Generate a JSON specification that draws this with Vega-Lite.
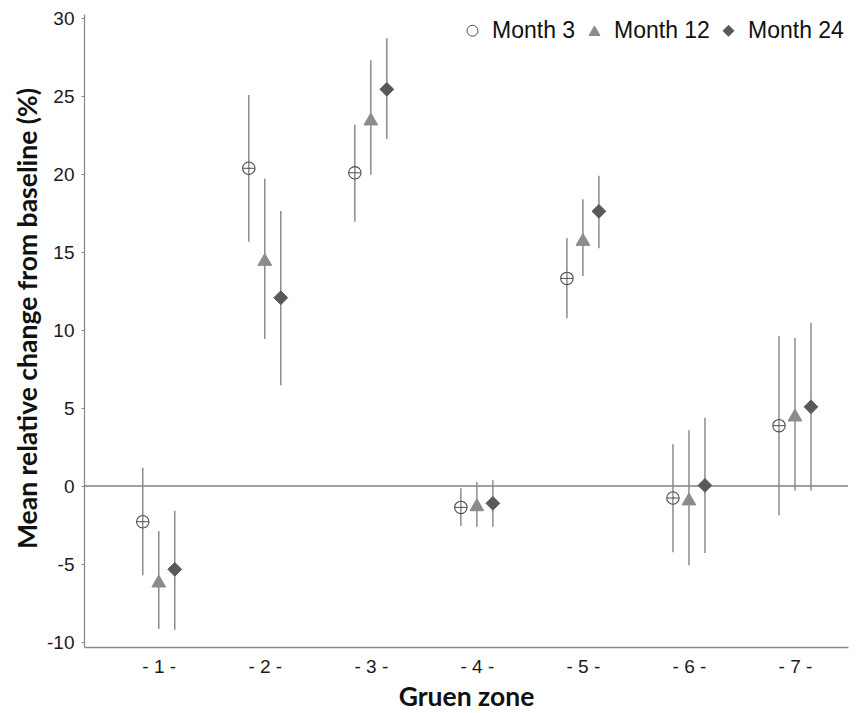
{
  "$schema": "https://vega.github.io/schema/vega-lite/v6.json",
  "width": 764,
  "height": 633,
  "autosize": {"type": "none"},
  "padding": {"left": 84, "top": 14, "right": 12, "bottom": 66},
  "background": "white",
  "config": {
    "view": {"stroke": null},
    "axis": {
      "grid": false,
      "domainColor": "#8a8a8a",
      "domainWidth": 1.3,
      "tickColor": "#8a8a8a",
      "labelFont": "Liberation Sans",
      "labelFontSize": 19,
      "labelColor": "#1a1a1a",
      "titleFont": "Lato",
      "titleFontSize": 26.5,
      "titleFontWeight": "bold",
      "titleColor": "#111111"
    },
    "legend": {
      "orient": "none",
      "legendX": 377,
      "legendY": 5,
      "direction": "horizontal",
      "labelFont": "Liberation Sans",
      "labelFontSize": 23,
      "labelColor": "#111111",
      "symbolSize": 120,
      "symbolStrokeWidth": 1,
      "labelOffset": 8,
      "columnPadding": 7,
      "padding": 0
    }
  },
  "data": {
    "values": [
      {"zone": 1, "month": "Month 3", "mean": -2.29, "lo": -5.72, "hi": 1.17},
      {"zone": 1, "month": "Month 12", "mean": -6.09, "lo": -9.17, "hi": -2.88},
      {"zone": 1, "month": "Month 24", "mean": -5.34, "lo": -9.21, "hi": -1.58},
      {"zone": 2, "month": "Month 3", "mean": 20.37, "lo": 15.66, "hi": 25.06},
      {"zone": 2, "month": "Month 12", "mean": 14.53, "lo": 9.42, "hi": 19.72},
      {"zone": 2, "month": "Month 24", "mean": 12.07, "lo": 6.46, "hi": 17.63},
      {"zone": 3, "month": "Month 3", "mean": 20.08, "lo": 16.94, "hi": 23.16},
      {"zone": 3, "month": "Month 12", "mean": 23.53, "lo": 19.96, "hi": 27.29},
      {"zone": 3, "month": "Month 24", "mean": 25.43, "lo": 22.24, "hi": 28.7},
      {"zone": 4, "month": "Month 3", "mean": -1.37, "lo": -2.56, "hi": -0.15},
      {"zone": 4, "month": "Month 12", "mean": -1.2, "lo": -2.61, "hi": 0.26},
      {"zone": 4, "month": "Month 24", "mean": -1.11, "lo": -2.61, "hi": 0.37},
      {"zone": 5, "month": "Month 3", "mean": 13.31, "lo": 10.75, "hi": 15.9},
      {"zone": 5, "month": "Month 12", "mean": 15.81, "lo": 13.46, "hi": 18.38},
      {"zone": 5, "month": "Month 24", "mean": 17.61, "lo": 15.24, "hi": 19.89},
      {"zone": 6, "month": "Month 3", "mean": -0.77, "lo": -4.25, "hi": 2.67},
      {"zone": 6, "month": "Month 12", "mean": -0.83, "lo": -5.08, "hi": 3.57},
      {"zone": 6, "month": "Month 24", "mean": 0.04, "lo": -4.29, "hi": 4.38},
      {"zone": 7, "month": "Month 3", "mean": 3.87, "lo": -1.88, "hi": 9.62},
      {"zone": 7, "month": "Month 12", "mean": 4.55, "lo": -0.28, "hi": 9.49},
      {"zone": 7, "month": "Month 24", "mean": 5.08, "lo": -0.28, "hi": 10.47}
    ]
  },
  "layer": [
    {
      "data": {"values": [{"v": 0}]},
      "mark": {"type": "rule", "color": "#808080", "strokeWidth": 1.3},
      "encoding": {
        "y": {"field": "v", "type": "quantitative", "title": "Mean relative change from baseline (%)",
              "scale": {"domain": [-10.32, 30.26], "nice": false, "zero": false},
              "axis": {"values": [-10, -5, 0, 5, 10, 15, 20, 25, 30], "tickSize": 3, "labelPadding": 7,
                       "labelFont": "Liberation Sans", "labelFontSize": 19,
                       "labelExpr": "datum.value < 0 ? '-' + (-datum.value) : '' + datum.value",
                       "labelFlush": false, "titleX": -56, "titleY": 304, "titleAngle": 270,
                       "titleBaseline": "middle", "titleAlign": "center"}}
      }
    },
    {
      "transform": [{"filter": "datum.month == 'Month 3'"}],
      "mark": {"type": "rule", "color": "#8c8c8c", "strokeWidth": 1.5, "xOffset": -16},
      "encoding": {
        "x": {"field": "zone", "type": "quantitative", "title": "Gruen zone",
              "scale": {"domain": [0.295, 7.5], "nice": false, "zero": false},
              "axis": {"values": [1, 2, 3, 4, 5, 6, 7], "labelExpr": "'- ' + datum.value + ' -'",
                       "labelFont": "Liberation Sans", "labelFontSize": 19,
                       "ticks": false, "tickSize": 0, "labelPadding": 10, "labelFlush": false,
                       "titleY": 50, "titleBaseline": "middle"}},
        "y": {"field": "lo", "type": "quantitative", "title": "Mean relative change from baseline (%)"},
        "y2": {"field": "hi"}
      }
    },
    {
      "transform": [{"filter": "datum.month == 'Month 12'"}],
      "mark": {"type": "rule", "color": "#8c8c8c", "strokeWidth": 1.5, "xOffset": 0},
      "encoding": {
        "x": {"field": "zone", "type": "quantitative", "title": "Gruen zone"},
        "y": {"field": "lo", "type": "quantitative", "title": "Mean relative change from baseline (%)"},
        "y2": {"field": "hi"}
      }
    },
    {
      "transform": [{"filter": "datum.month == 'Month 24'"}],
      "mark": {"type": "rule", "color": "#8c8c8c", "strokeWidth": 1.5, "xOffset": 16},
      "encoding": {
        "x": {"field": "zone", "type": "quantitative", "title": "Gruen zone"},
        "y": {"field": "lo", "type": "quantitative", "title": "Mean relative change from baseline (%)"},
        "y2": {"field": "hi"}
      }
    },
    {
      "transform": [{"filter": "datum.month == 'Month 3'"}],
      "mark": {"type": "point", "size": 154, "strokeWidth": 1.1, "opacity": 1, "xOffset": -16},
      "encoding": {
        "x": {"field": "zone", "type": "quantitative", "title": "Gruen zone"},
        "y": {"field": "mean", "type": "quantitative", "title": "Mean relative change from baseline (%)"},
        "shape": {"field": "month", "type": "nominal", "title": null,
                  "scale": {"domain": ["Month 3", "Month 12", "Month 24"], "range": ["circle", "triangle-up", "diamond"]}},
        "fill": {"field": "month", "type": "nominal", "title": null,
                 "scale": {"domain": ["Month 3", "Month 12", "Month 24"], "range": ["transparent", "#8c8c8c", "#595959"]}},
        "stroke": {"field": "month", "type": "nominal", "title": null,
                   "scale": {"domain": ["Month 3", "Month 12", "Month 24"], "range": ["#4d4d4d", "#8c8c8c", "#595959"]}}
      }
    },
    {
      "transform": [{"filter": "datum.month == 'Month 3'"}],
      "mark": {"type": "point", "shape": "M-1,0L1,0", "size": 154, "color": "#4d4d4d", "filled": false, "strokeWidth": 1, "opacity": 1, "xOffset": -16},
      "encoding": {
        "x": {"field": "zone", "type": "quantitative", "title": "Gruen zone"},
        "y": {"field": "mean", "type": "quantitative", "title": "Mean relative change from baseline (%)"}
      }
    },
    {
      "transform": [{"filter": "datum.month == 'Month 12'"}],
      "mark": {"type": "point", "size": 190, "strokeWidth": 1, "opacity": 1, "xOffset": 0},
      "encoding": {
        "x": {"field": "zone", "type": "quantitative", "title": "Gruen zone"},
        "y": {"field": "mean", "type": "quantitative", "title": "Mean relative change from baseline (%)"},
        "shape": {"field": "month", "type": "nominal", "title": null},
        "fill": {"field": "month", "type": "nominal", "title": null},
        "stroke": {"field": "month", "type": "nominal", "title": null}
      }
    },
    {
      "transform": [{"filter": "datum.month == 'Month 24'"}],
      "mark": {"type": "point", "size": 190, "strokeWidth": 1, "opacity": 1, "xOffset": 16},
      "encoding": {
        "x": {"field": "zone", "type": "quantitative", "title": "Gruen zone"},
        "y": {"field": "mean", "type": "quantitative", "title": "Mean relative change from baseline (%)"},
        "shape": {"field": "month", "type": "nominal", "title": null},
        "fill": {"field": "month", "type": "nominal", "title": null},
        "stroke": {"field": "month", "type": "nominal", "title": null}
      }
    }
  ]
}
